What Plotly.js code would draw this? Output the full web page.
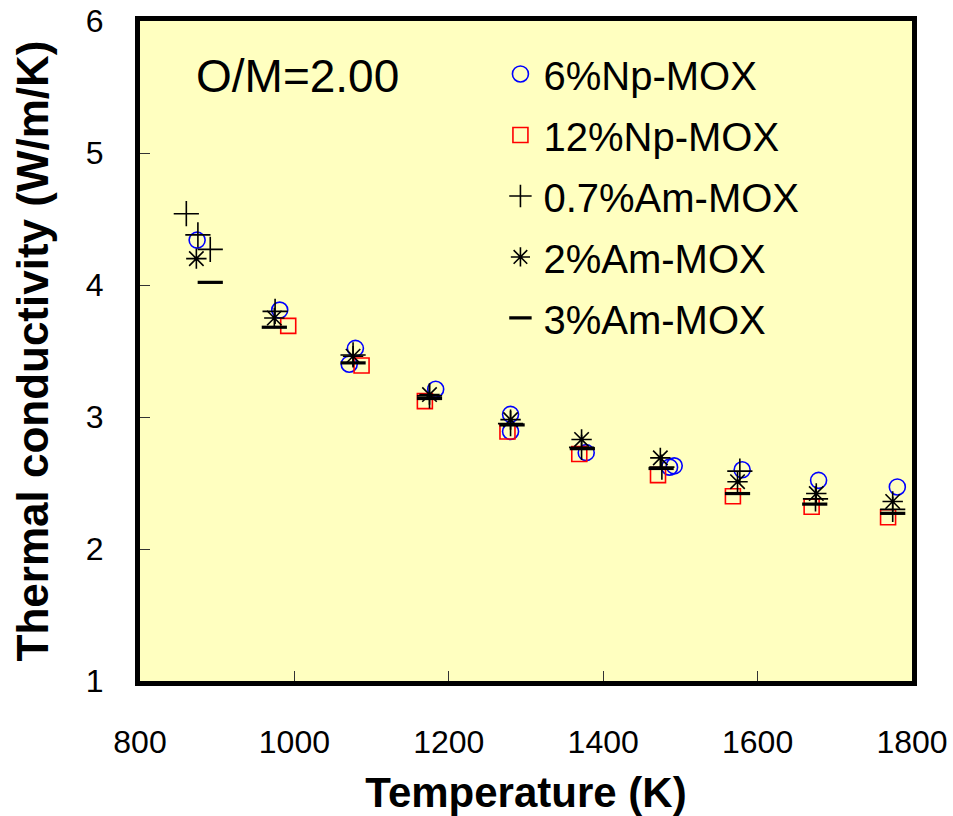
<!DOCTYPE html>
<html>
<head>
<meta charset="utf-8">
<script src="https://cdn.plot.ly/plotly-3.0.1.min.js"></script>
<style>html,body{margin:0;padding:0;background:#fff;}#chart{width:953px;height:816px;}</style>
</head>
<body>
<div id="chart"></div>
<script>
// Data
const np6_T = [874, 981, 1079, 1071, 1183, 1280, 1280, 1378, 1486, 1492, 1580, 1679, 1781];
const np6_k = [4.34, 3.81, 3.52, 3.40, 3.21, 3.02, 2.89, 2.73, 2.62, 2.63, 2.60, 2.52, 2.47];

const np12_T = [992, 1087, 1169, 1276, 1369, 1471, 1568, 1670, 1769];
const np12_k = [3.69, 3.39, 3.12, 2.89, 2.72, 2.56, 2.40, 2.32, 2.24];

const am07_T = [860, 875, 891, 975, 1076, 1175, 1280, 1372, 1476, 1577, 1675, 1775];
const am07_k = [4.54, 4.38, 4.27, 3.80, 3.47, 3.16, 2.95, 2.77, 2.62, 2.59, 2.38, 2.30];

const am2_T = [873, 974, 1076, 1175, 1280, 1372, 1474, 1574, 1676, 1775];
const am2_k = [4.20, 3.75, 3.46, 3.17, 2.98, 2.83, 2.69, 2.51, 2.42, 2.36];

const am3_T = [891, 974, 1076, 1175, 1282, 1373, 1475, 1574, 1674, 1775];
const am3_k = [4.02, 3.68, 3.41, 3.14, 2.94, 2.76, 2.61, 2.42, 2.34, 2.27];

const seriesNames = ["6%Np-MOX", "12%Np-MOX", "0.7%Am-MOX", "2%Am-MOX", "3%Am-MOX"];
const xTicks = [800, 1000, 1200, 1400, 1600, 1800];
const yTicks = [1, 2, 3, 4, 5, 6];

const FONT = "Arial, 'Liberation Sans', sans-serif";

const traces = [
  {x: np6_T, y: np6_k, name: seriesNames[0], legendgroup: "a",
   marker: {symbol: "circle-open", size: 16, color: "#0000FF", line: {width: 1.6, color: "#0000FF"}}},
  {x: np12_T, y: np12_k, name: seriesNames[1], legendgroup: "b",
   marker: {symbol: "square-open", size: 15, color: "#FF0000", line: {width: 1.6, color: "#FF0000"}}},
  {x: am07_T, y: am07_k, name: seriesNames[2], legendgroup: "c",
   marker: {symbol: "cross-thin-open", size: 18, color: "#000000", line: {width: 1.6, color: "#000000"}}},
  {x: am2_T, y: am2_k, name: seriesNames[3], legendgroup: "d",
   marker: {symbol: "asterisk-open", size: 17, color: "#000000", line: {width: 1.6, color: "#000000"}}},
  {x: am3_T, y: am3_k, name: seriesNames[4], legendgroup: "e",
   marker: {symbol: "line-ew-open", size: 18, color: "#000000", line: {width: 3.2, color: "#000000"}}}
].map(t => Object.assign({type: "scatter", mode: "markers"}, t));

const layout = {
  width: 953, height: 816,
  margin: {l: 140, r: 41, t: 21, b: 135},
  paper_bgcolor: "#FFFFFF",
  plot_bgcolor: "#FFFFC0",
  font: {family: FONT, color: "#000000", size: 32},
  showlegend: true,
  legend: {
    x: 0.463, y: 0.969, xanchor: "left", yanchor: "top",
    bgcolor: "rgba(0,0,0,0)", borderwidth: 0,
    font: {family: FONT, size: 40, color: "#000000"},
    tracegroupgap: 6, itemwidth: 36
  },
  xaxis: {
    range: [800, 1800], tickvals: xTicks, ticktext: xTicks.map(String),
    showgrid: false, zeroline: false,
    showline: true, linewidth: 5, linecolor: "#000000", mirror: true,
    ticks: "inside", ticklen: 10, tickwidth: 1, tickcolor: "#333333",
    ticklabelstandoff: 29,
    tickfont: {family: FONT, size: 32, color: "#000000"},
    title: {text: "Temperature (K)", standoff: 22,
            font: {family: FONT, size: 42, color: "#000000", weight: "bold"}}
  },
  yaxis: {
    range: [1, 6], tickvals: yTicks, ticktext: yTicks.map(String),
    showgrid: false, zeroline: false,
    showline: true, linewidth: 5, linecolor: "#000000", mirror: true,
    ticks: "inside", ticklen: 10, tickwidth: 1, tickcolor: "#333333",
    ticklabelstandoff: 25,
    tickfont: {family: FONT, size: 32, color: "#000000"},
    title: {text: "Thermal conductivity (W/m/K)", standoff: 25,
            font: {family: FONT, size: 44, color: "#000000", weight: "bold"}}
  },
  annotations: [{
    text: "O/M=2.00", xref: "paper", yref: "paper", x: 0.0705, y: 0.917,
    xanchor: "left", yanchor: "middle", showarrow: false,
    font: {family: FONT, size: 46, color: "#000000"}
  }]
};

Plotly.newPlot("chart", traces, layout, {displayModeBar: false, staticPlot: true});
</script>
</body>
</html>
